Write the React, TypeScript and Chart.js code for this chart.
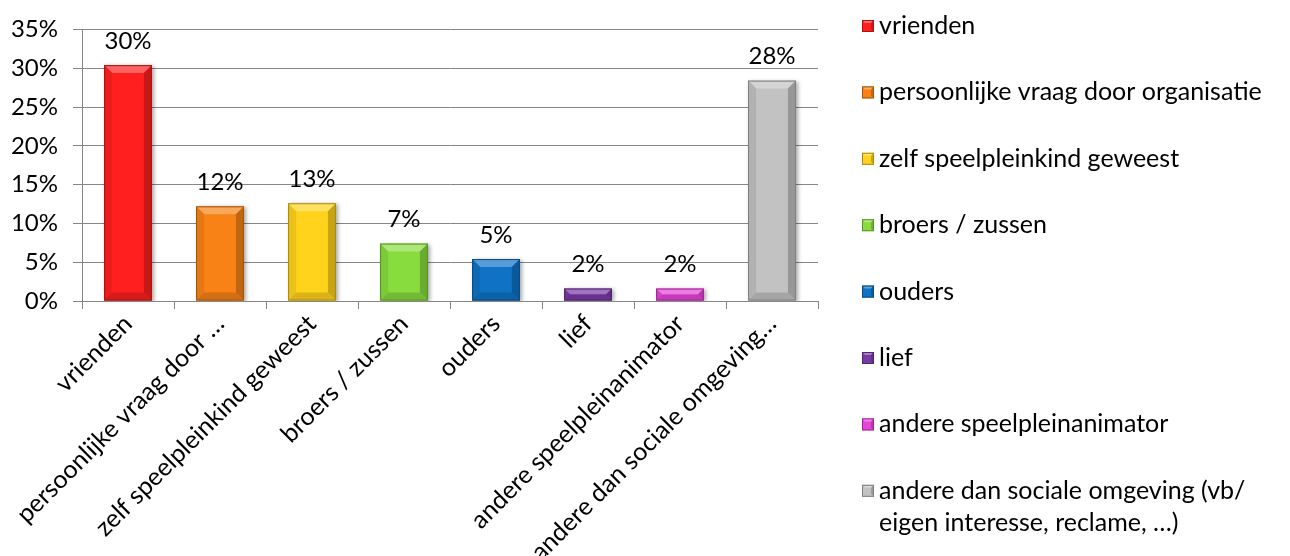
import React, { useEffect, useRef } from "react";
import { Chart, registerables } from "chart.js";

Chart.register(...registerables);

const legendLabels = [
  "vrienden",
  "persoonlijke vraag door organisatie",
  "zelf speelpleinkind geweest",
  "broers / zussen",
  "ouders",
  "lief",
  "andere speelpleinanimator",
  "andere dan sociale omgeving (vb/ eigen interesse, reclame, …)",
];

const tickLabels = [
  "vrienden",
  "persoonlijke vraag door …",
  "zelf speelpleinkind geweest",
  "broers / zussen",
  "ouders",
  "lief",
  "andere speelpleinanimator",
  "andere dan sociale omgeving…",
];

const values = [30.4, 12.2, 12.6, 7.4, 5.4, 1.6, 1.6, 28.4];

const barColors = [
  "#ff1f1f",
  "#f88216",
  "#ffd21c",
  "#88dc3e",
  "#0f72c4",
  "#7a3aa6",
  "#e744d8",
  "#c2c2c2",
];

const yMax = 35;
const yStep = 5;

const FONT = "Lato, 'Open Sans', sans-serif";
const AXIS_SIZE = 24;
const LABEL_SIZE = 25;

function shade(hex: string, amt: number) {
  const n = parseInt(hex.slice(1), 16);
  let r = (n >> 16) & 255, g = (n >> 8) & 255, b = n & 255;
  if (amt >= 0) {
    r = r + (255 - r) * amt; g = g + (255 - g) * amt; b = b + (255 - b) * amt;
  } else {
    r = r * (1 + amt); g = g * (1 + amt); b = b * (1 + amt);
  }
  return `rgb(${Math.round(r)},${Math.round(g)},${Math.round(b)})`;
}

const shadowPlugin = {
  id: "barShadow",
  beforeDatasetsDraw(chart: any) {
    const ctx = chart.ctx;
    ctx.save();
    ctx.shadowColor = "rgba(0,0,0,0.35)";
    ctx.shadowBlur = 4;
    ctx.shadowOffsetX = 2;
    ctx.shadowOffsetY = 1;
  },
  afterDatasetsDraw(chart: any) {
    chart.ctx.restore();
  },
};

const bevelPlugin = {
  id: "bevel",
  afterDatasetsDraw(chart: any) {
    const ctx = chart.ctx;
    const meta = chart.getDatasetMeta(0);
    meta.data.forEach((el: any, i: number) => {
      const { x, y, width, base } = el.getProps(["x", "y", "width", "base"], true);
      const l = x - width / 2, r = x + width / 2, t = y, b = base;
      const bv = Math.min(8, (b - t) / 2);
      const c = barColors[i];
      ctx.save();
      ctx.beginPath();
      ctx.moveTo(l, t); ctx.lineTo(r, t); ctx.lineTo(r - bv, t + bv); ctx.lineTo(l + bv, t + bv); ctx.closePath();
      ctx.fillStyle = shade(c, 0.3);
      ctx.fill();
      ctx.beginPath();
      ctx.moveTo(l, t); ctx.lineTo(l + bv, t + bv); ctx.lineTo(l + bv, b - bv); ctx.lineTo(l, b); ctx.closePath();
      ctx.fillStyle = shade(c, -0.08);
      ctx.fill();
      ctx.beginPath();
      ctx.moveTo(r, t); ctx.lineTo(r - bv, t + bv); ctx.lineTo(r - bv, b - bv); ctx.lineTo(r, b); ctx.closePath();
      ctx.fillStyle = shade(c, -0.22);
      ctx.fill();
      ctx.beginPath();
      ctx.moveTo(l, b); ctx.lineTo(l + bv, b - bv); ctx.lineTo(r - bv, b - bv); ctx.lineTo(r, b); ctx.closePath();
      ctx.fillStyle = shade(c, -0.15);
      ctx.fill();
      ctx.strokeStyle = shade(c, -0.35);
      ctx.lineWidth = 1;
      ctx.strokeRect(l + 0.5, t + 0.5, width - 1, b - t - 1);
      ctx.restore();
    });
  },
};

const valueLabelPlugin = {
  id: "valueLabels",
  afterDatasetsDraw(chart: any) {
    const ctx = chart.ctx;
    const meta = chart.getDatasetMeta(0);
    ctx.save();
    ctx.font = `${AXIS_SIZE}px ${FONT}`;
    ctx.fillStyle = "#000";
    ctx.textAlign = "center";
    ctx.textBaseline = "middle";
    meta.data.forEach((el: any, i: number) => {
      const v = chart.data.datasets[0].data[i];
      ctx.fillText(`${Math.round(v)}%`, el.x, el.y - 24);
    });
    ctx.restore();
  },
};

const legendPlugin = {
  id: "sideLegend",
  afterDraw(chart: any) {
    const ctx = chart.ctx;
    ctx.save();
    ctx.font = `${LABEL_SIZE}px ${FONT}`;
    ctx.textBaseline = "middle";
    ctx.textAlign = "left";
    const markerX = 862;
    const textX = 879;
    const startY = 26;
    const step = 66.4;
    const maxW = 392;
    legendLabels.forEach((label, i) => {
      const y = startY + i * step;
      const words = label.split(" ");
      const lines: string[] = [];
      let cur = "";
      words.forEach((w) => {
        const test = cur ? cur + " " + w : w;
        if (ctx.measureText(test).width > maxW && cur) {
          lines.push(cur);
          cur = w;
        } else cur = test;
      });
      if (cur) lines.push(cur);
      const c = barColors[i];
      const s = 12;
      const mx = markerX, my = y - s / 2;
      ctx.fillStyle = c;
      ctx.fillRect(mx, my, s, s);
      ctx.fillStyle = shade(c, 0.35);
      ctx.beginPath();
      ctx.moveTo(mx, my); ctx.lineTo(mx + s, my); ctx.lineTo(mx + s - 3, my + 3); ctx.lineTo(mx + 3, my + 3); ctx.closePath();
      ctx.fill();
      ctx.fillStyle = shade(c, -0.2);
      ctx.beginPath();
      ctx.moveTo(mx + s, my); ctx.lineTo(mx + s, my + s); ctx.lineTo(mx + s - 3, my + s - 3); ctx.lineTo(mx + s - 3, my + 3); ctx.closePath();
      ctx.fill();
      ctx.strokeStyle = shade(c, -0.35);
      ctx.lineWidth = 1;
      ctx.strokeRect(mx + 0.5, my + 0.5, s - 1, s - 1);
      ctx.fillStyle = "#000";
      lines.forEach((ln, k) => {
        ctx.fillText(ln, textX, y + k * 32);
      });
    });
    ctx.restore();
  },
};

export default function App() {
  const ref = useRef<HTMLCanvasElement | null>(null);
  useEffect(() => {
    if (!ref.current) return;
    const chart = new Chart(ref.current, {
      type: "bar",
      data: {
        labels: tickLabels,
        datasets: [
          {
            data: values,
            backgroundColor: barColors,
            borderWidth: 0,
            categoryPercentage: 1,
            barPercentage: 0.52,
          },
        ],
      },
      options: {
        animation: false,
        responsive: false,
        devicePixelRatio: 1,
        layout: { padding: { top: 24, right: 472, left: 0, bottom: 0 } },
        plugins: {
          legend: { display: false },
          tooltip: { enabled: false },
        },
        scales: {
          x: {
            grid: {
              display: true,
              drawOnChartArea: false,
              drawTicks: true,
              tickLength: 8,
              color: "#868686",
              offset: true,
            },
            border: { display: true, color: "#868686", width: 1 },
            ticks: {
              maxRotation: 45,
              minRotation: 45,
              autoSkip: false,
              color: "#000",
              padding: 0,
              font: { family: FONT, size: LABEL_SIZE },
            },
            afterFit(scale: any) {
              scale.height = 255;
            },
          },
          y: {
            min: 0,
            max: yMax,
            grid: {
              color: "#868686",
              lineWidth: 1,
              tickLength: 9,
            },
            border: { display: true, color: "#868686", width: 1 },
            ticks: {
              stepSize: yStep,
              color: "#000",
              padding: 15,
              font: { family: FONT, size: AXIS_SIZE },
              callback: (v: any) => `${v}%`,
            },
            afterFit(scale: any) {
              scale.width = 82;
            },
          },
        },
      },
      plugins: [shadowPlugin, bevelPlugin, valueLabelPlugin, legendPlugin],
    });
    return () => chart.destroy();
  }, []);
  return (
    <div style={{ position: "fixed", left: 0, top: 0, width: 1290, height: 556, background: "#fff" }}>
      <canvas ref={ref} width={1290} height={556} style={{ display: "block" }} />
    </div>
  );
}
